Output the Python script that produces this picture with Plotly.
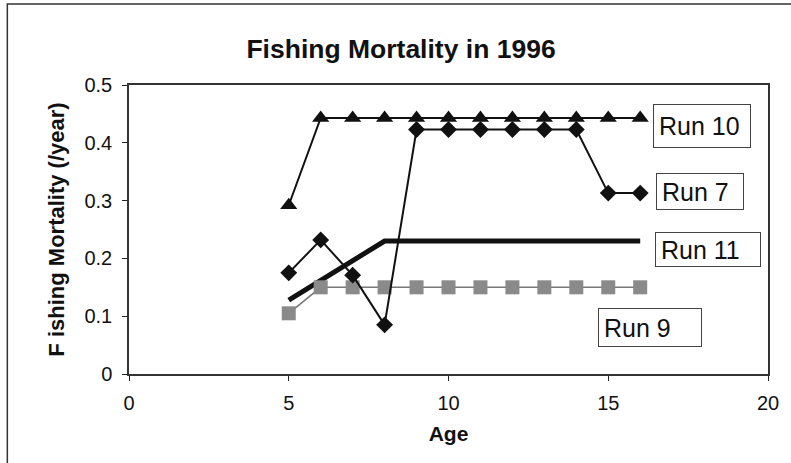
import plotly.graph_objects as go

# ---- data ----
ages = [5, 6, 7, 8, 9, 10, 11, 12, 13, 14, 15, 16]
run10 = [0.292, 0.443, 0.443, 0.443, 0.443, 0.443, 0.443, 0.443, 0.443, 0.443, 0.443, 0.443]
run7 = [0.175, 0.232, 0.171, 0.085, 0.423, 0.423, 0.423, 0.423, 0.423, 0.423, 0.313, 0.313]
run11_ages = [5, 8, 16]
run11 = [0.128, 0.230, 0.230]
run9 = [0.105, 0.150, 0.150, 0.150, 0.150, 0.150, 0.150, 0.150, 0.150, 0.150, 0.150, 0.150]

x_ticks = [0, 5, 10, 15, 20]
y_ticks = [0, 0.1, 0.2, 0.3, 0.4, 0.5]
y_tick_labels = ["0", "0.1", "0.2", "0.3", "0.4", "0.5"]

labels = ["Run 10", "Run 7", "Run 11", "Run 9"]

FONT = "Liberation Sans, Arial, sans-serif"

fig = go.Figure()
fig.add_trace(go.Scatter(x=run11_ages, y=run11, mode="lines", name="Run 11",
                         line=dict(color="#111111", width=5)))
fig.add_trace(go.Scatter(x=ages, y=run9, mode="lines+markers", name="Run 9",
                         line=dict(color="#777777", width=1.5),
                         marker=dict(symbol="square", size=14, color="#8a8a8a")))
fig.add_trace(go.Scatter(x=ages, y=run7, mode="lines+markers", name="Run 7",
                         line=dict(color="#111111", width=2),
                         marker=dict(symbol="diamond", size=13, color="#111111")))
fig.add_trace(go.Scatter(x=ages, y=run10, mode="lines+markers", name="Run 10",
                         line=dict(color="#111111", width=2),
                         marker=dict(symbol="triangle-up", size=15, color="#111111")))

# label boxes: (left, top) in data coords, box width/height in px
boxes = [(16.41, 0.467, 98, 44), (16.50, 0.348, 88, 37),
         (16.47, 0.246, 106, 35), (14.67, 0.114, 104, 39)]
for text, (bx, by, bw, bh) in zip(labels, boxes):
    fig.add_annotation(x=bx, y=by, xref="x", yref="y", xanchor="left", yanchor="top",
                       text=text, showarrow=False, align="left",
                       width=bw - 12, height=bh - 12, borderpad=5,
                       bordercolor="#444444", borderwidth=1, bgcolor="white",
                       font=dict(family=FONT, size=25, color="#111111"))

# outer chart-area frame (left and top edges visible)
fig.add_shape(type="rect", xref="paper", yref="paper",
              x0=-0.1904, x1=1.04, y0=-0.34, y1=1.280,
              line=dict(color="#333333", width=1.5), layer="below")

fig.update_layout(
    width=791, height=463,
    margin=dict(l=129, r=16, t=85, b=89),
    paper_bgcolor="white", plot_bgcolor="white",
    showlegend=False,
    font=dict(family=FONT, color="#111111"),
    title=dict(text="Fishing Mortality in 1996", x=0.507, xref="container", xanchor="center",
               y=1 - 49 / 463, yref="container", yanchor="middle",
               font=dict(family=FONT, size=26.5, weight="bold", color="#111111")),
    xaxis=dict(range=[0, 20], tickvals=x_ticks, ticks="outside", ticklen=5,
               tickcolor="#222222", showline=True, linecolor="#333333", linewidth=1.5,
               mirror=True, showgrid=False, zeroline=False, ticklabelstandoff=5,
               tickfont=dict(family=FONT, size=20, color="#111111"),
               title=dict(text="Age", standoff=14,
                          font=dict(family=FONT, size=21, weight="bold", color="#111111"))),
    yaxis=dict(range=[0, 0.5], tickvals=y_ticks, ticktext=y_tick_labels, ticks="outside",
               ticklen=5, tickcolor="#222222", showline=True, linecolor="#333333",
               linewidth=1.5, mirror=True, showgrid=False, zeroline=False,
               ticklabelstandoff=6,
               tickfont=dict(family=FONT, size=20, color="#111111"),
               title=dict(text="F ishing Mortality (/year)", standoff=14,
                          font=dict(family=FONT, size=22, weight="bold", color="#111111"))),
)

fig.write_html("out.html", config={"displayModeBar": False},
               post_script="document.body.style.margin='0';document.body.style.overflow='hidden';")
